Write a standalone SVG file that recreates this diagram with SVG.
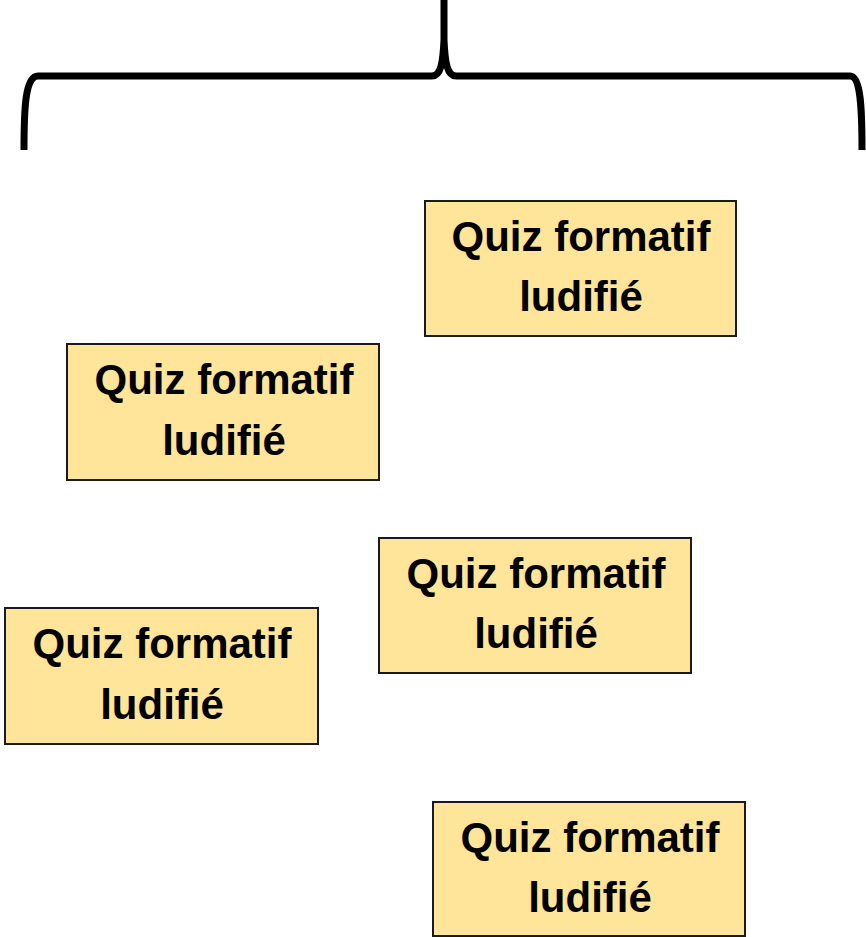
<svg xmlns="http://www.w3.org/2000/svg" width="866" height="937" viewBox="0 0 866 937">
<style>
.box{fill:#FFE599;stroke:#1a1a1a;stroke-width:2}
.t{font-family:"Liberation Sans",Arial,sans-serif;font-weight:bold;font-size:42px;fill:#000;text-anchor:middle}
.brace{fill:none;stroke:#000;stroke-width:7;stroke-linejoin:round}
</style>
<rect width="866" height="937" fill="#fff"/>
<g id="connectors">
<path class="brace" d="M 24 150 C 24 110, 25 76, 38 76 L 432 76 C 441 76, 443 62, 444 40 L 444 0 M 444 40 C 445 62, 447 76, 456 76 L 850 76 C 861 76, 862 110, 862 150"/>
</g>
<g id="node1"><rect class="box" x="425" y="201" width="311" height="135"/><text class="t" x="581" y="251">Quiz formatif</text><text class="t" x="581" y="311">ludifié</text></g>
<g id="node2"><rect class="box" x="67" y="344" width="312" height="136"/><text class="t" x="224" y="394">Quiz formatif</text><text class="t" x="224" y="455">ludifié</text></g>
<g id="node3"><rect class="box" x="379" y="538" width="312" height="135"/><text class="t" x="536" y="588">Quiz formatif</text><text class="t" x="536" y="648">ludifié</text></g>
<g id="node4"><rect class="box" x="5" y="608" width="313" height="136"/><text class="t" x="162" y="658">Quiz formatif</text><text class="t" x="162" y="719">ludifié</text></g>
<g id="node5"><rect class="box" x="433" y="802" width="312" height="134"/><text class="t" x="590" y="852">Quiz formatif</text><text class="t" x="590" y="912">ludifié</text></g>
</svg>
